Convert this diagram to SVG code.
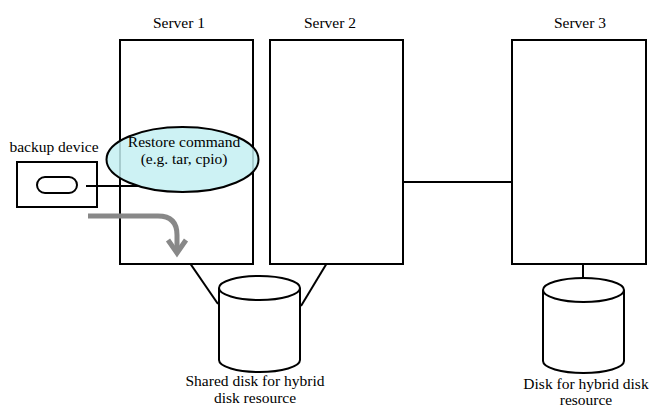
<svg xmlns="http://www.w3.org/2000/svg" width="652" height="408" viewBox="0 0 652 408">
<style>
text{font-family:'Liberation Serif','DejaVu Serif','Times New Roman',serif;font-size:15.5px;fill:#000;text-anchor:middle}
.box{fill:#fff;stroke:#000;stroke-width:2}
.ln{fill:none;stroke:#000;stroke-width:2}
.cyl{fill:#fff;stroke:#000;stroke-width:2}
</style>
<rect width="652" height="408" fill="#fff"/>
<g id="connectors">
<line class="ln" x1="403" y1="182" x2="512" y2="182"/>
<line class="ln" x1="183" y1="253" x2="218" y2="304"/>
<line class="ln" x1="333" y1="253" x2="301" y2="306"/>
<line class="ln" x1="583" y1="253" x2="583" y2="283"/>
</g>
<g id="server1">
<rect class="box" x="120" y="40" width="133" height="224"/>
<text x="179" y="28">Server 1</text>
</g>
<g id="server2">
<rect class="box" x="270" y="40" width="133" height="224"/>
<text x="330" y="28">Server 2</text>
</g>
<g id="server3">
<rect class="box" x="512" y="40" width="134" height="224"/>
<text x="580" y="28">Server 3</text>
</g>
<g id="backup-device">
<rect class="box" x="17" y="162" width="80" height="45"/>
<rect class="ln" x="37" y="177" width="40" height="16" rx="8"/>
<text x="54" y="152">backup device</text>
</g>
<g id="restore-link">
<line class="ln" x1="86" y1="186" x2="140" y2="186"/>
</g>
<g id="restore-command">
<ellipse cx="182.5" cy="159.5" rx="76" ry="32.5" fill="#c4f0f2" fill-opacity="0.85" stroke="#000" stroke-width="2"/>
<text x="184" y="147">Restore command</text>
<text x="184" y="164">(e.g. tar, cpio)</text>
</g>
<g id="restore-arrow">
<path d="M88,216 H158 Q177,216 177,235 V252" fill="none" stroke="#888" stroke-width="5"/>
<path d="M168,240 L177,253 L186,240" fill="none" stroke="#888" stroke-width="5" stroke-linejoin="miter"/>
</g>
<g id="shared-disk">
<path class="cyl" d="M219,288 V360 A40.5,12 0 0 0 300,360 V288"/>
<ellipse class="cyl" cx="259.5" cy="288" rx="40.5" ry="12"/>
<text x="255" y="386">Shared disk for hybrid</text>
<text x="255" y="403">disk resource</text>
</g>
<g id="disk3">
<path class="cyl" d="M543,290 V361 A40.5,12 0 0 0 624,361 V290"/>
<ellipse class="cyl" cx="583.5" cy="290" rx="40.5" ry="12"/>
<text x="586" y="389">Disk for hybrid disk</text>
<text x="586" y="405">resource</text>
</g>
</svg>
